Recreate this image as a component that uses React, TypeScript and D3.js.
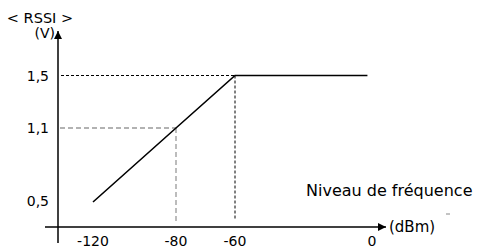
import React from "react";
import * as d3 from "d3";

const xTickValues = [-120, -80, -60, 0];
const xTickLabels = ["-120", "-80", "-60", "0"];
const yTickValues = [0.5, 1.1, 1.5];
const yTickLabels = ["0,5", "1,1", "1,5"];
const curveX = [-120, -80, -60, -2];
const curveY = [0.5, 1.1, 1.5, 1.5];
const guideGreyX = -80;
const guideGreyY = 1.1;
const guideBlackX = -60;
const guideBlackY = 1.5;

const W = 477;
const H = 248;
const FONT = "DejaVu Sans, Verdana, sans-serif";

export default function App() {
  const x = d3.scaleLinear().domain([-120, -80, -60, 0]).range([93, 176, 235, 372]);
  const y = d3.scaleLinear().domain([0.5, 1.1, 1.5]).range([202, 128, 75.5]);
  const axisX = 58;
  const axisY = 227;

  const pts: [number, number][] = curveX.map((v, i) => [x(v), y(curveY[i])]);
  const line = d3.line()(pts) || "";

  return (
    <svg
      width={W}
      height={H}
      style={{ position: "absolute", left: 0, top: 0, display: "block", background: "#fff" }}
      fontFamily={FONT}
    >
      <defs>
        <marker id="arr" viewBox="0 0 10 10" refX="10" refY="5" markerWidth="8" markerHeight="8" markerUnits="userSpaceOnUse" orient="auto">
          <path d="M0,0 L10,5 L0,10 z" fill="#000" />
        </marker>
      </defs>

      {/* guides */}
      <line x1={axisX + 2} x2={x(guideGreyX)} y1={y(guideGreyY)} y2={y(guideGreyY)} stroke="#999" strokeWidth={1.3} strokeDasharray="5,3" />
      <line x1={x(guideGreyX)} x2={x(guideGreyX)} y1={y(guideGreyY)} y2={223} stroke="#999" strokeWidth={1.3} strokeDasharray="5,3" />
      <line x1={axisX + 3} x2={x(guideBlackX)} y1={y(guideBlackY)} y2={y(guideBlackY)} stroke="#000" strokeWidth={1} strokeDasharray="3,2" />
      <line x1={x(guideBlackX)} x2={x(guideBlackX)} y1={y(guideBlackY)} y2={220} stroke="#000" strokeWidth={1} strokeDasharray="3,2" />

      {/* curve */}
      <path d={line} fill="none" stroke="#000" strokeWidth={1.6} />

      {/* axes */}
      <line x1={45} x2={386} y1={axisY} y2={axisY} stroke="#000" strokeWidth={1.5} markerEnd="url(#arr)" />
      <line x1={axisX} x2={axisX} y1={243} y2={31} stroke="#000" strokeWidth={1.5} markerEnd="url(#arr)" />

      {/* x tick labels */}
      {xTickValues.map((v, i) => (
        <text key={v} x={x(v)} y={246} textAnchor="middle" fontSize={14} fill="#000">
          {xTickLabels[i]}
        </text>
      ))}
      {/* y tick labels */}
      {yTickValues.map((v, i) => (
        <text key={v} x={49} y={y(v) - (v === 0.5 ? 1.5 : 0)} dy="0.36em" textAnchor="end" fontSize={14} fill="#000">
          {yTickLabels[i]}
        </text>
      ))}

      <text x={40} y={18} dy="0.36em" textAnchor="middle" fontSize={14.5} fill="#000">{"< RSSI >"}</text>
      <text x={55} y={33} dy="0.36em" textAnchor="end" fontSize={14} fill="#000">(V)</text>
      <text x={389} y={227} dy="0.36em" textAnchor="start" fontSize={15} fill="#000">(dBm)</text>
      <text x={306} y={196} textAnchor="start" fontSize={16} fill="#000">Niveau de fréquence</text>
      <line x1={446} x2={450} y1={214} y2={214} stroke="#888" strokeWidth={1} />
    </svg>
  );
}
